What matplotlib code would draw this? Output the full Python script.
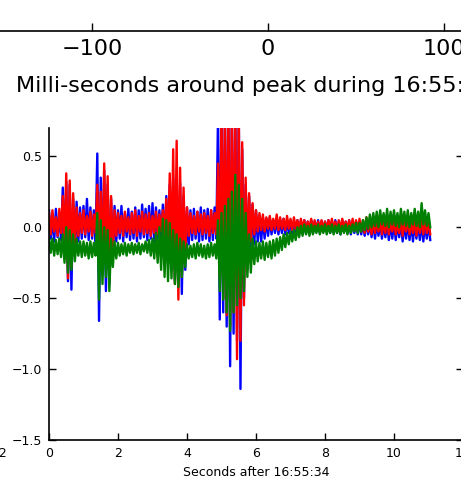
import numpy as np
import matplotlib
matplotlib.use("Agg")
import matplotlib.pyplot as plt

# sample times (seconds after 16:55:34), one upper and one lower reading per 0.1 s
t = np.arange(111) / 10.0

red_hi = [0.10, 0.12, 0.07, 0.13, 0.22, 0.38, 0.33, 0.24, 0.14, 0.10,
          0.12, 0.08, 0.11, 0.09, 0.30, 0.25, 0.45, 0.36, 0.22, 0.12,
          0.10, 0.08, 0.11, 0.07, 0.10, 0.12, 0.08, 0.11, 0.09, 0.10,
          0.08, 0.11, 0.09, 0.12, 0.20, 0.38, 0.55, 0.61, 0.42, 0.28,
          0.14, 0.10, 0.08, 0.11, 0.09, 0.10, 0.08, 0.12, 0.10, 0.45,
          0.85, 0.85, 0.85, 0.85, 0.85, 0.85, 0.60, 0.35, 0.24, 0.17,
          0.12, 0.10, 0.09, 0.07, 0.08, 0.06, 0.09, 0.07, 0.06, 0.08,
          0.06, 0.07, 0.05, 0.06, 0.05, 0.04, 0.06, 0.05, 0.04, 0.05,
          0.04, 0.05, 0.06, 0.04, 0.05, 0.06, 0.04, 0.05, 0.06, 0.05,
          0.06, 0.05, 0.07, 0.05, 0.06, 0.04, 0.06, 0.05, 0.07, 0.05,
          0.06, 0.04, 0.07, 0.05, 0.06, 0.04, 0.06, 0.05, 0.07, 0.06,
          0.05]
red_lo = [-0.05, -0.03, -0.06, -0.04, -0.15, -0.36, -0.28, -0.12, -0.06, -0.04,
          -0.05, -0.03, -0.06, -0.04, -0.20, -0.30, -0.25, -0.37, -0.18, -0.06,
          -0.04, -0.06, -0.03, -0.05, -0.04, -0.06, -0.03, -0.05, -0.04, -0.06,
          -0.04, -0.05, -0.03, -0.06, -0.15, -0.25, -0.40, -0.51, -0.35, -0.18,
          -0.06, -0.04, -0.05, -0.03, -0.05, -0.04, -0.06, -0.04, -0.05, -0.35,
          -0.50, -0.62, -0.70, -0.60, -0.93, -0.80, -0.55, -0.25, -0.10, -0.05,
          -0.03, -0.02, -0.03, -0.01, -0.02, -0.01, -0.02, -0.01, -0.02, -0.01,
          -0.02, -0.01, -0.02, -0.01, -0.02, -0.01, -0.02, -0.02, -0.01, -0.02,
          -0.02, -0.01, -0.02, -0.03, -0.02, -0.01, -0.02, -0.03, -0.02, -0.03,
          -0.03, -0.04, -0.03, -0.05, -0.04, -0.03, -0.05, -0.04, -0.05, -0.03,
          -0.05, -0.04, -0.06, -0.03, -0.05, -0.04, -0.06, -0.04, -0.05, -0.04,
          -0.05]

blue_hi = [0.12, 0.08, 0.13, 0.10, 0.28, 0.32, 0.30, 0.20, 0.18, 0.14,
           0.15, 0.20, 0.14, 0.12, 0.52, 0.35, 0.40, 0.30, 0.20, 0.15,
           0.12, 0.15, 0.10, 0.13, 0.11, 0.14, 0.12, 0.16, 0.13, 0.15,
           0.17, 0.14, 0.12, 0.16, 0.22, 0.30, 0.35, 0.33, 0.31, 0.22,
           0.14, 0.12, 0.13, 0.11, 0.14, 0.12, 0.13, 0.12, 0.14, 0.80,
           0.85, 0.85, 0.85, 0.85, 0.85, 0.85, 0.55, 0.30, 0.22, 0.16,
           0.12, 0.08, 0.07, 0.06, 0.07, 0.05, 0.06, 0.05, 0.06, 0.05,
           0.05, 0.04, 0.05, 0.04, 0.05, 0.04, 0.05, 0.04, 0.05, 0.04,
           0.04, 0.05, 0.04, 0.05, 0.04, 0.05, 0.04, 0.05, 0.04, 0.04,
           0.04, 0.03, 0.04, 0.03, 0.04, 0.03, 0.04, 0.03, 0.04, 0.03,
           0.04, 0.03, 0.04, 0.03, 0.04, 0.03, 0.04, 0.03, 0.04, 0.03,
           0.03]
blue_lo = [-0.08, -0.10, -0.07, -0.09, -0.22, -0.38, -0.44, -0.20, -0.10, -0.08,
           -0.07, -0.09, -0.08, -0.10, -0.66, -0.30, -0.45, -0.40, -0.22, -0.10,
           -0.08, -0.10, -0.07, -0.09, -0.08, -0.10, -0.08, -0.07, -0.09, -0.08,
           -0.10, -0.08, -0.09, -0.12, -0.20, -0.30, -0.38, -0.42, -0.47, -0.30,
           -0.12, -0.09, -0.08, -0.10, -0.09, -0.08, -0.10, -0.09, -0.08, -0.65,
           -0.60, -0.70, -0.98, -0.75, -0.80, -1.14, -0.50, -0.30, -0.15, -0.12,
           -0.10, -0.10, -0.08, -0.06, -0.05, -0.04, -0.05, -0.04, -0.05, -0.04,
           -0.04, -0.03, -0.04, -0.03, -0.04, -0.03, -0.04, -0.03, -0.04, -0.03,
           -0.03, -0.04, -0.03, -0.04, -0.05, -0.03, -0.04, -0.05, -0.04, -0.05,
           -0.05, -0.06, -0.05, -0.07, -0.08, -0.06, -0.08, -0.07, -0.09, -0.08,
           -0.09, -0.07, -0.10, -0.08, -0.09, -0.10, -0.08, -0.09, -0.10, -0.08,
           -0.09]

green_hi = [-0.07, -0.08, -0.09, -0.08, -0.05, 0.00, -0.02, -0.05, -0.08, -0.10,
            -0.10, -0.11, -0.10, -0.11, 0.10, 0.05, 0.00, -0.02, -0.08, -0.10,
            -0.11, -0.12, -0.11, -0.12, -0.11, -0.12, -0.11, -0.12, -0.10, -0.09,
            -0.08, -0.04, 0.00, 0.06, 0.05, 0.03, -0.02, -0.05, -0.08, -0.10,
            -0.12, -0.13, -0.12, -0.11, -0.12, -0.13, -0.12, -0.11, -0.12, 0.05,
            0.10, 0.15, 0.20, 0.25, 0.37, 0.30, 0.20, 0.10, -0.05, -0.08,
            -0.10, -0.11, -0.10, -0.11, -0.10, -0.09, -0.08, -0.07, -0.05, -0.04,
            -0.03, -0.02, 0.00, 0.01, 0.02, 0.01, 0.02, 0.01, 0.02, 0.01,
            0.02, 0.01, 0.02, 0.01, 0.02, 0.01, 0.02, 0.01, 0.02, 0.03,
            0.03, 0.05, 0.07, 0.09, 0.10, 0.11, 0.12, 0.10, 0.13, 0.11,
            0.12, 0.10, 0.13, 0.11, 0.12, 0.10, 0.13, 0.11, 0.17, 0.12,
            0.10]
green_lo = [-0.18, -0.20, -0.19, -0.21, -0.25, -0.32, -0.30, -0.24, -0.20, -0.21,
            -0.20, -0.22, -0.21, -0.20, -0.51, -0.40, -0.35, -0.45, -0.28, -0.22,
            -0.20, -0.19, -0.20, -0.18, -0.19, -0.18, -0.19, -0.17, -0.18, -0.20,
            -0.22, -0.25, -0.30, -0.35, -0.38, -0.36, -0.40, -0.42, -0.35, -0.28,
            -0.22, -0.21, -0.22, -0.20, -0.21, -0.22, -0.21, -0.20, -0.22, -0.45,
            -0.51, -0.60, -0.73, -0.60, -0.55, -0.50, -0.45, -0.35, -0.32, -0.26,
            -0.24, -0.22, -0.23, -0.21, -0.22, -0.20, -0.18, -0.16, -0.14, -0.12,
            -0.10, -0.09, -0.07, -0.06, -0.05, -0.06, -0.05, -0.04, -0.05, -0.04,
            -0.05, -0.04, -0.05, -0.04, -0.05, -0.04, -0.05, -0.04, -0.03, -0.04,
            -0.03, -0.02, -0.01, 0.00, 0.01, 0.00, 0.02, 0.01, 0.00, 0.02,
            0.01, 0.00, 0.02, 0.01, 0.00, 0.02, 0.01, 0.00, 0.02, 0.01,
            0.00]

series = [(blue_hi, blue_lo, "b"), (red_hi, red_lo, "r"), (green_hi, green_lo, "g")]

fig = plt.figure(figsize=(4.61, 4.80), dpi=100)

# main panel (seconds)
ax = fig.add_axes([49 / 461, 40 / 480, 414 / 461, 312 / 480])
for hi, lo, col in series:
    # interleave the upper and lower readings so the trace zig-zags like the raw signal
    tt = np.empty(2 * len(t))
    yy = np.empty(2 * len(t))
    tt[0::2] = t
    tt[1::2] = t + 0.05
    yy[0::2] = hi
    yy[1::2] = lo
    ax.plot(tt, yy, color=col, lw=1.7)
ax.set_xlim(0, 12)
ax.set_ylim(-1.5, 0.7)
ax.set_yticks([-1.5, -1.0, -0.5, 0.0, 0.5])
ax.set_xticks([0, 2, 4, 6, 8, 10, 12])
ax.spines["top"].set_visible(False)
for s in ax.spines.values():
    s.set_linewidth(1.2)
ax.tick_params(direction="in", length=5, width=1, labelsize=9, right=True, top=False, pad=5)
ax.set_xlabel("Seconds after 16:55:34", fontsize=9, labelpad=4)

# neighbouring panel on the left, only its last tick label shows
axl = fig.add_axes([-414 / 461, 40 / 480, 414 / 461, 312 / 480])
axl.set_xlim(0, 12)
axl.set_xticks([0, 2, 4, 6, 8, 10, 12])
axl.set_yticks([])
for s in axl.spines.values():
    s.set_visible(False)
axl.tick_params(direction="in", length=0, labelsize=9, pad=5)

# panel above (milli-seconds around peak)
axt = fig.add_axes([-5 / 461, 449 / 480, 546 / 461, 0.5])
axt.set_xlim(-155, 155)
axt.set_xticks([-100, 0, 100])
axt.set_yticks([])
for k in ["top", "left", "right"]:
    axt.spines[k].set_visible(False)
axt.spines["bottom"].set_linewidth(1.2)
axt.tick_params(direction="in", length=6, width=1, labelsize=16, pad=6)
axt.set_xlabel("Milli-seconds around peak during 16:55:39", fontsize=16)
axt.xaxis.label.set_horizontalalignment("left")
axt.xaxis.label.set_verticalalignment("baseline")
axt.xaxis.set_label_coords(0.0385, -0.254)

fig.savefig("out.png", dpi=100)
